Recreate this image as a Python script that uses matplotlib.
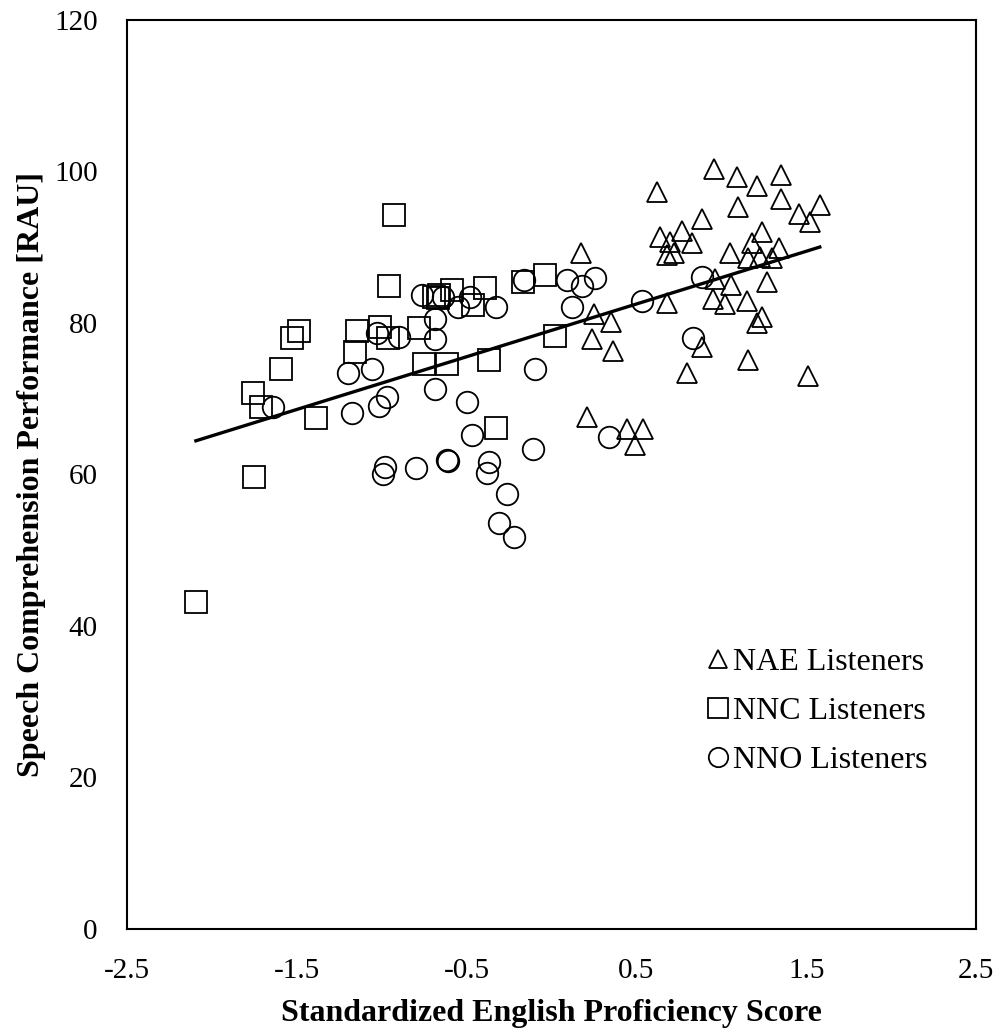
import numpy as np
import matplotlib
matplotlib.use("Agg")
from matplotlib import pyplot as plt

# Speech comprehension vs. standardized English proficiency, three listener groups

nae_x = [0.957, 1.09, 1.21, 1.35, 0.62, 1.35, 1.10, 1.46, 1.52, 1.58,
         0.886, 0.64, 0.77, 0.70, 0.83, 0.68, 0.72, 1.24, 1.18, 1.05,
         1.34, 1.30, 1.16, 1.23, 0.174, 0.96, 1.06, 1.27, 0.95, 1.02,
         1.15, 0.68, 0.25, 0.35, 1.24, 1.21, 0.24, 0.36, 0.886, 1.16,
         0.80, 1.51, 0.21, 0.445, 0.54, 0.49]
nae_y = [100.3, 99.3, 98.1, 99.5, 97.3, 96.4, 95.3, 94.4, 93.3, 95.6,
         93.7, 91.4, 92.1, 90.7, 90.6, 89.0, 89.2, 92.0, 90.6, 89.2,
         89.9, 88.6, 88.6, 88.7, 89.2, 85.8, 85.0, 85.4, 83.2, 82.5,
         82.9, 82.6, 81.2, 80.1, 80.8, 80.0, 77.9, 76.3, 76.8, 75.1,
         73.4, 73.0, 67.6, 66.0, 66.0, 63.9]

nnc_x = [-0.93, -0.957, -0.586, -0.69, -0.66, -0.67, -1.487, -1.53, -1.146, -1.01,
         -0.96, -0.78, -1.157, -1.59, -0.75, -0.615, -1.76, -1.71, -1.387, -2.094,
         -1.75, -0.39, -0.46, -0.168, -0.04, 0.02, -0.368, -0.327]
nnc_y = [94.3, 84.9, 84.4, 83.4, 83.7, 83.3, 78.9, 78.0, 78.9, 79.5,
         78.0, 79.3, 76.2, 73.9, 74.6, 74.6, 70.8, 68.9, 67.5, 43.2,
         59.7, 84.6, 82.4, 85.4, 86.3, 78.3, 75.1, 66.1]

nno_x = [-0.763, -0.64, -0.55, -0.48, -0.686, -0.686, -1.03, -0.898, -1.2, -1.057,
         -0.97, -1.016, -0.686, -1.175, -1.64, -0.50, -0.47, -0.327, -0.162, 0.09,
         0.18, 0.256, 0.12, -0.097, -0.108, -0.98, -0.99, -0.80, -0.615, -0.61,
         -0.368, -0.38, -0.262, -0.31, -0.221, 0.533, 0.886, 0.833, 0.34]
nno_y = [83.7, 83.4, 82.1, 83.4, 80.5, 77.9, 78.7, 78.1, 73.4, 73.9,
         70.2, 69.0, 71.3, 68.1, 68.9, 69.6, 65.2, 82.1, 85.7, 85.7,
         84.9, 85.9, 82.1, 73.9, 63.4, 61.0, 60.1, 60.9, 61.9, 61.8,
         61.6, 60.2, 57.4, 53.6, 51.7, 82.9, 86.1, 78.0, 64.9]

x_ticks = [-2.5, -1.5, -0.5, 0.5, 1.5, 2.5]
y_ticks = [0, 20, 40, 60, 80, 100, 120]

plt.rcParams['font.family'] = ['Liberation Serif', 'DejaVu Serif']

fig = plt.figure(figsize=(10.06, 10.33), dpi=100)
ax = fig.add_axes([0.1262, 0.1007, 0.8440, 0.8800])

mk = dict(linestyle='none', markerfacecolor='none', markeredgecolor='black',
          markeredgewidth=1.3)
ax.plot(nae_x, nae_y, marker='^', markersize=15, label='NAE Listeners', **mk)
ax.plot(nnc_x, nnc_y, marker='s', markersize=15.5, label='NNC Listeners', **mk)
ax.plot(nno_x, nno_y, marker='o', markersize=15.5, label='NNO Listeners', **mk)

# linear trend line across all listeners
all_x = np.array(nae_x + nnc_x + nno_x)
all_y = np.array(nae_y + nnc_y + nno_y)
slope, intercept = np.polyfit(all_x, all_y, 1)
fit_x = np.array([all_x.min(), all_x.max()])
ax.plot(fit_x, slope * fit_x + intercept, color='black', linewidth=2.4)

ax.set_xlim(-2.5, 2.5)
ax.set_ylim(0, 120)
ax.set_xticks(x_ticks)
ax.set_xticklabels([f"{t:g}" for t in x_ticks])
ax.set_yticks(y_ticks)
ax.tick_params(length=0, labelsize=21, pad=21)
for s in ax.spines.values():
    s.set_linewidth(1.5)

ax.set_xlabel("Standardized English Proficiency Score", fontsize=23,
              fontweight='bold', labelpad=10.5)
ax.set_ylabel("Speech Comprehension Performance [RAU]", fontsize=23,
              fontweight='bold', labelpad=6)

ax.legend(loc='upper left', bbox_to_anchor=(0.651, 0.341), frameon=False,
          fontsize=23, markerscale=0.9, handlelength=0.6, handletextpad=0.17,
          labelspacing=0.62)

plt.savefig("out.png", dpi=100)
